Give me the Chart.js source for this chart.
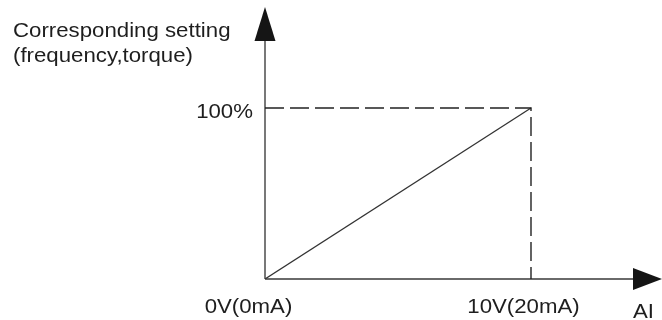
<!DOCTYPE html>
<html>
<head>
<meta charset="utf-8">
<script src="https://cdn.jsdelivr.net/npm/chart.js@4/dist/chart.umd.min.js"></script>
<style>
  html, body { margin: 0; padding: 0; background: #ffffff; }
  #wrap { width: 662px; height: 320px; }
</style>
</head>
<body>
<div id="wrap"><canvas id="c" width="662" height="320"></canvas></div>
<script>
// ---- data ----
const aiValues = [0, 10];
const settingValues = [0, 100];
const xTickValues = [0, 10];
const xTickLabels = ['0V(0mA)', '10V(20mA)'];
const yTickValues = [100];
const yTickLabels = ['100%'];
const xAxisTitle = 'AI';
const yAxisTitle = ['Corresponding setting', '(frequency,torque)'];

const linePoints = aiValues.map((v, i) => ({ x: v, y: settingValues[i] }));
const guidePoints = [
  { x: aiValues[0], y: settingValues[1] },
  { x: aiValues[1], y: settingValues[1] },
  { x: aiValues[1], y: settingValues[0] }
];

const FONT = '19.5px "Liberation Sans", Arial, sans-serif';
const TEXT_COLOR = '#1e1e1e';

function stretchedText(ctx, text, x, y, align) {
  ctx.save();
  ctx.translate(x, y);
  ctx.scale(1.14, 1);
  ctx.textAlign = align;
  ctx.textBaseline = 'alphabetic';
  ctx.fillText(text, 0, 0);
  ctx.restore();
}

const axesPlugin = {
  id: 'axesPlugin',
  beforeDatasetsDraw(chart) {
    const ctx = chart.ctx;
    const xs = chart.scales.x, ys = chart.scales.y;
    const x0 = xs.getPixelForValue(0);
    const y0 = ys.getPixelForValue(0);
    const top = chart.chartArea.top;
    const right = chart.chartArea.right;
    ctx.save();
    ctx.strokeStyle = '#6a6a6a';
    ctx.lineWidth = 1.8;
    ctx.beginPath();
    ctx.moveTo(x0, y0);
    ctx.lineTo(x0, top + 34);
    ctx.moveTo(x0, y0);
    ctx.lineTo(right - 29, y0);
    ctx.stroke();
    ctx.fillStyle = '#151515';
    // vertical arrow
    ctx.beginPath();
    ctx.moveTo(x0, top);
    ctx.lineTo(x0 - 10.5, top + 34);
    ctx.lineTo(x0 + 10.5, top + 34);
    ctx.closePath();
    ctx.fill();
    // horizontal arrow
    ctx.beginPath();
    ctx.moveTo(right, y0);
    ctx.lineTo(right - 29, y0 - 11);
    ctx.lineTo(right - 29, y0 + 11);
    ctx.closePath();
    ctx.fill();
    ctx.restore();
  },
  afterDraw(chart) {
    const ctx = chart.ctx;
    const xs = chart.scales.x, ys = chart.scales.y;
    const x0 = xs.getPixelForValue(0);
    const y0 = ys.getPixelForValue(0);
    ctx.save();
    ctx.font = FONT;
    ctx.fillStyle = TEXT_COLOR;
    // y tick labels
    yTickValues.forEach((v, i) => {
      stretchedText(ctx, yTickLabels[i], x0 - 12, ys.getPixelForValue(v) + 10, 'right');
    });
    // x tick labels
    const xOffsets = [-16.5, -7.5];
    xTickValues.forEach((v, i) => {
      stretchedText(ctx, xTickLabels[i], xs.getPixelForValue(v) + xOffsets[i], y0 + 34, 'center');
    });
    // axis titles
    stretchedText(ctx, xAxisTitle, chart.chartArea.right - 29, y0 + 39, 'left');
    stretchedText(ctx, yAxisTitle[0], 13, 37, 'left');
    stretchedText(ctx, yAxisTitle[1], 13, 62, 'left');
    ctx.restore();
  }
};

new Chart(document.getElementById('c'), {
  type: 'scatter',
  data: {
    datasets: [
      {
        data: guidePoints,
        showLine: true,
        borderColor: '#222222',
        borderWidth: 1.4,
        borderDash: [19, 6],
        pointRadius: 0,
        fill: false,
        tension: 0
      },
      {
        data: linePoints,
        showLine: true,
        borderColor: '#333333',
        borderWidth: 1.3,
        pointRadius: 0,
        fill: false,
        tension: 0
      }
    ]
  },
  options: {
    responsive: false,
    animation: false,
    devicePixelRatio: 1,
    layout: { padding: { left: 265, right: 0, top: 7, bottom: 41 } },
    plugins: { legend: { display: false }, tooltip: { enabled: false } },
    scales: {
      x: { type: 'linear', display: false, min: 0, max: 14.925 },
      y: { type: 'linear', display: false, min: 0, max: 159.06 }
    }
  },
  plugins: [axesPlugin]
});
</script>
</body>
</html>
